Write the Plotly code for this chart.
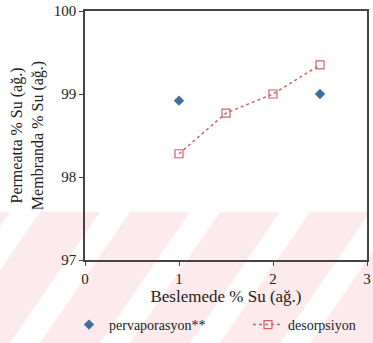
import plotly.graph_objects as go

perv_x = [1, 2.5]
perv_y = [98.92, 99.0]
des_x = [1, 1.5, 2, 2.5]
des_y = [98.28, 98.77, 99.0, 99.35]

font = "Liberation Serif, Times New Roman, serif"
W, H = 373, 343
L, R, T, B = 85, 6, 11, 83
PW, PH = W - L - R, H - T - B


def px(x):
    return (x - L) / PW


def py(y):
    return (H - B - y) / PH


fig = go.Figure()

# faint pink watermark band with white diagonal stripes
shapes = [dict(type="rect", xref="paper", yref="paper", x0=px(0), x1=px(W), y0=py(H), y1=py(212),
               fillcolor="#fdeaec", line_width=0, layer="below")]
for xs in [10, 100, 190, 280, 370]:
    path = "M {},{} L {},{} L {},{} L {},{} Z".format(
        px(xs), py(212), px(xs + 30), py(212), px(xs + 30 - 90), py(H), px(xs - 90), py(H))
    shapes.append(dict(type="path", xref="paper", yref="paper", path=path,
                       fillcolor="white", line_width=0, layer="below"))

fig.add_trace(go.Scatter(x=perv_x, y=perv_y, mode="markers", name="pervaporasyon**",
                         marker=dict(symbol="diamond", size=8, color="#3f6f9a"), legend="legend"))
fig.add_trace(go.Scatter(x=des_x, y=des_y, mode="lines+markers", name="desorpsiyon",
                         line=dict(color="#d2606a", dash="dot", width=1.5),
                         marker=dict(symbol="square-open", size=8, color="#d2606a", line=dict(width=1.2)),
                         legend="legend2"))

leg_common = dict(orientation="h", xanchor="left", yanchor="middle", y=py(325),
                  font=dict(size=14), itemwidth=30, bgcolor="rgba(0,0,0,0)")

fig.update_layout(
    width=W, height=H,
    margin=dict(l=L, r=R, t=T, b=B, autoexpand=False),
    paper_bgcolor="white", plot_bgcolor="rgba(0,0,0,0)",
    font=dict(family=font, size=15, color="#222"),
    shapes=shapes,
    showlegend=True,
    legend=dict(x=px(69), **leg_common),
    legend2=dict(x=px(248), **leg_common),
)
fig.update_xaxes(range=[0, 3], tickvals=[0, 1, 2, 3], showline=True, linecolor="#444", linewidth=1.5,
                 mirror=True, ticks="outside", ticklen=4, tickcolor="#444", showgrid=False, zeroline=False,
                 automargin=False, ticklabeloverflow="allow",
                 title=dict(text="Beslemede % Su (ağ.)", standoff=2, font=dict(size=17)))
fig.update_yaxes(range=[97, 100], tickvals=[97, 98, 99, 100], showline=True, linecolor="#444", linewidth=1.5,
                 mirror=True, ticks="outside", ticklen=4, tickcolor="#444", showgrid=False, zeroline=False,
                 automargin=False,
                 title=dict(text="Permeatta % Su (ağ.)<br>Membranda % Su (ağ.)", standoff=6, font=dict(size=16)))

fig.write_html("out.html", config={"displayModeBar": False},
               post_script="document.body.style.margin='0';document.body.style.overflow='hidden';")
